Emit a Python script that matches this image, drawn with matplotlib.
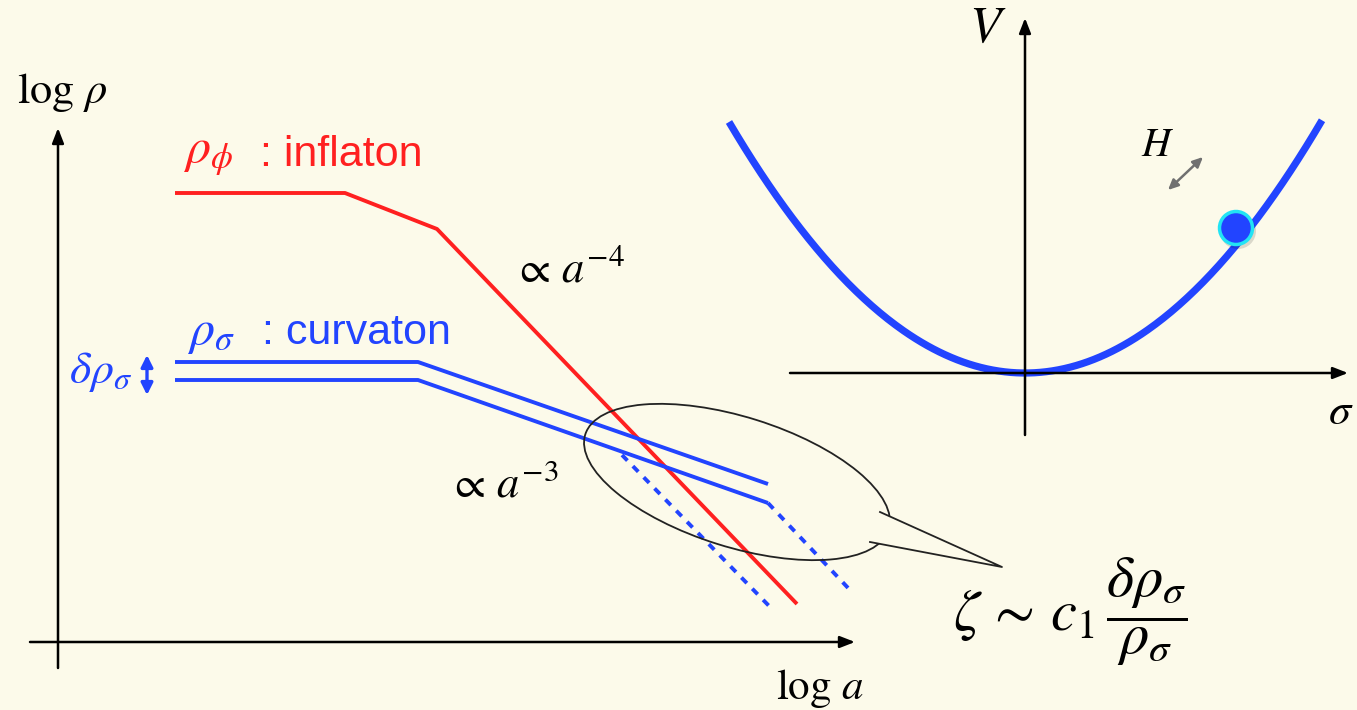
import numpy as np
import matplotlib
matplotlib.use("Agg")
import matplotlib.pyplot as plt
from matplotlib.patches import Ellipse, Polygon, Circle

plt.rcParams.update({"mathtext.fontset": "stix", "font.family": "Liberation Sans"})

BG = "#fcfaea"
RED = "#ff2020"
BLUE = "#2244ff"

# --- left panel: log rho vs log a (arbitrary units) ---
inflaton_x = [1.17, 2.87, 3.79, 7.39]
inflaton_y = [4.49, 4.49, 4.13, 0.38]
curv_hi_x = [1.17, 3.60, 7.10]
curv_hi_y = [2.80, 2.80, 1.58]
curv_lo_x = [1.17, 3.60, 7.10]
curv_lo_y = [2.62, 2.62, 1.39]
dash_a_x = [5.64, 7.15]
dash_a_y = [1.87, 0.32]
dash_b_x = [7.10, 7.92]
dash_b_y = [1.39, 0.52]

# speech bubble
bubble_center = (6.79, 1.60)
bubble_w, bubble_h, bubble_angle = 3.18, 1.30, -17.4
tail_base_hi = (8.22, 1.30)
tail_base_lo = (8.12, 1.00)
tail_tip = (9.44, 0.75)

# --- right panel: V(sigma) = m^2 sigma^2 / 2 ---
MASS2 = 0.573
sigma_range = (-2.96, 2.97)
ball_sigma, ball_V = 2.11, 1.45

fig = plt.figure(figsize=(13.57, 7.10), dpi=100, facecolor=BG)

ax = fig.add_axes([0, 0, 1, 1])
ax.set_xlim(-0.58, 12.99)
ax.set_ylim(-0.68, 6.42)
ax.axis("off")

arrow_kw = dict(arrowstyle="-|>,head_length=0.9,head_width=0.35", color="black", lw=1.8,
                shrinkA=0, shrinkB=0)
ax.annotate("", xy=(0, 5.14), xytext=(0, -0.26), arrowprops=arrow_kw)
ax.annotate("", xy=(7.97, 0), xytext=(-0.28, 0), arrowprops=arrow_kw)

ax.plot(inflaton_x, inflaton_y, color=RED, lw=2.8, solid_capstyle="butt")
ax.plot(curv_hi_x, curv_hi_y, color=BLUE, lw=2.8, solid_capstyle="butt")
ax.plot(curv_lo_x, curv_lo_y, color=BLUE, lw=2.8, solid_capstyle="butt")
ax.plot(dash_a_x, dash_a_y, color=BLUE, lw=2.8, ls=(0, (2, 2.0)))
ax.plot(dash_b_x, dash_b_y, color=BLUE, lw=2.8, ls=(0, (2, 2.0)))

ax.add_patch(Ellipse(bubble_center, bubble_w, bubble_h, angle=bubble_angle,
                     fill=False, ec="#222222", lw=1.3, zorder=3))
ax.add_patch(Polygon([tail_base_hi, tail_tip, tail_base_lo], closed=True,
                     fc=BG, ec="none", zorder=4))
ax.plot([tail_base_hi[0], tail_tip[0], tail_base_lo[0]],
        [tail_base_hi[1], tail_tip[1], tail_base_lo[1]],
        color="#222222", lw=1.3, zorder=5)

ax.text(0.04, 5.50, r"$\log\,\rho$", fontsize=32, ha="center", va="center")
ax.text(7.62, -0.46, r"$\log\,a$", fontsize=31, ha="center", va="center")
ax.text(1.25, 4.87, r"$\rho_\phi$", fontsize=36, color=RED, ha="left", va="center")
ax.text(2.02, 4.87, ": inflaton", fontsize=31, color=RED, ha="left", va="center")
ax.text(1.29, 3.09, r"$\rho_\sigma$", fontsize=36, color=BLUE, ha="left", va="center")
ax.text(2.04, 3.09, ": curvaton", fontsize=31, color=BLUE, ha="left", va="center")
ax.text(0.11, 2.70, r"$\delta\rho_\sigma$", fontsize=33, color=BLUE, ha="left", va="center")
ax.annotate("", xy=(0.89, 2.87), xytext=(0.89, 2.47),
            arrowprops=dict(arrowstyle="<|-|>,head_length=0.7,head_width=0.35",
                            color=BLUE, lw=2.4, shrinkA=0, shrinkB=0))
ax.text(4.55, 3.72, r"$\propto\, a^{-4}$", fontsize=32, ha="left", va="center")
ax.text(3.90, 1.57, r"$\propto\, a^{-3}$", fontsize=32, ha="left", va="center")
ax.text(8.95, 0.30, r"$\zeta\,\sim\,c_1\,\dfrac{\delta\rho_\sigma}{\rho_\sigma}$",
        fontsize=42, ha="left", va="center")

# right panel
ax2 = fig.add_axes([700 / 1357, 250 / 710, 657 / 1357, 460 / 710])
ax2.set_xlim(-3.25, 3.32)
ax2.set_ylim(-0.87, 3.73)
ax2.axis("off")
ax2.patch.set_visible(False)

ax2.annotate("", xy=(0, 3.55), xytext=(0, -0.62), arrowprops=arrow_kw)
ax2.annotate("", xy=(3.23, 0), xytext=(-2.35, 0), arrowprops=arrow_kw)

sigma = np.linspace(*sigma_range, 300)
ax2.plot(sigma, 0.5 * MASS2 * sigma ** 2, color=BLUE, lw=5.2, solid_capstyle="butt")

ax2.add_patch(Circle((ball_sigma + 0.02, ball_V - 0.03), 0.18, fc="#00000022", ec="none", zorder=4))
ax2.add_patch(Circle((ball_sigma, ball_V), 0.165, fc=BLUE, ec="#22e4f4", lw=2.5, zorder=5))

ax2.annotate("", xy=(1.78, 2.16), xytext=(1.43, 1.83),
             arrowprops=dict(arrowstyle="<|-|>,head_length=0.6,head_width=0.28",
                             color="#707070", lw=1.8, shrinkA=0, shrinkB=0))
ax2.text(1.33, 2.28, r"$H$", fontsize=29, ha="center", va="center")
ax2.text(-0.37, 3.45, r"$V$", fontsize=37, ha="center", va="center")
ax2.text(3.16, -0.39, r"$\sigma$", fontsize=32, ha="center", va="center")

fig.savefig("out.png", dpi=100, facecolor=BG)
